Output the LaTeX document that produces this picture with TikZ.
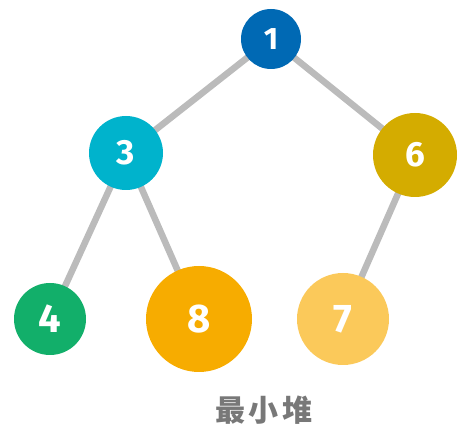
\documentclass[tikz,border=0pt]{standalone}
\usepackage{fontspec}
\setmainfont{Fira Sans}
\newfontfamily\cjk{Noto Sans CJK SC}
\definecolor{cone}{RGB}{0,105,180}
\definecolor{cthree}{RGB}{0,179,204}
\definecolor{csix}{RGB}{212,172,0}
\definecolor{cfour}{RGB}{18,175,106}
\definecolor{ceight}{RGB}{247,172,0}
\definecolor{cseven}{RGB}{251,201,90}
\definecolor{edgegrey}{RGB}{187,187,187}
\definecolor{capgrey}{RGB}{120,120,120}
\begin{document}
\begin{tikzpicture}[x=1pt,y=1pt,
  heapnode/.style={circle,inner sep=0pt,text=white,font=\bfseries},
  heapedge/.style={draw=edgegrey,line width=6.5pt}]
\useasboundingbox (0,0) rectangle (464,428);
\coordinate (p1) at (271,389);
\coordinate (p3) at (126,275);
\coordinate (p6) at (415,273);
\coordinate (p4) at (50,109);
\coordinate (p8) at (199,109);
\coordinate (p7) at (343,109);
\draw[heapedge] (p1) -- (p3);
\draw[heapedge] (p1) -- (p6);
\draw[heapedge] (p3) -- (p4);
\draw[heapedge] (p3) -- (p8);
\draw[heapedge] (p6) -- (p7);
\node[heapnode,fill=cone,minimum size=60pt,font=\bfseries\fontsize{31}{31}\selectfont] (n1) at (p1) {1};
\node[heapnode,fill=cthree,minimum size=74pt,font=\bfseries\fontsize{35}{35}\selectfont] (n3) at (p3) {3};
\node[heapnode,fill=csix,minimum size=84pt,font=\bfseries\fontsize{35}{35}\selectfont] (n6) at (p6) {6};
\node[heapnode,fill=cfour,minimum size=72pt,font=\bfseries\fontsize{40}{40}\selectfont] (n4) at (p4) {4};
\node[heapnode,fill=ceight,minimum size=106pt,font=\bfseries\fontsize{40}{40}\selectfont] (n8) at (p8) {8};
\node[heapnode,fill=cseven,minimum size=92pt,font=\bfseries\fontsize{40}{40}\selectfont] (n7) at (p7) {7};
\node[text=capgrey,font=\cjk\bfseries\fontsize{30}{30}\selectfont] (cap) at (264,18) {最\hspace{4pt}小\hspace{4pt}堆};
\end{tikzpicture}
\end{document}
